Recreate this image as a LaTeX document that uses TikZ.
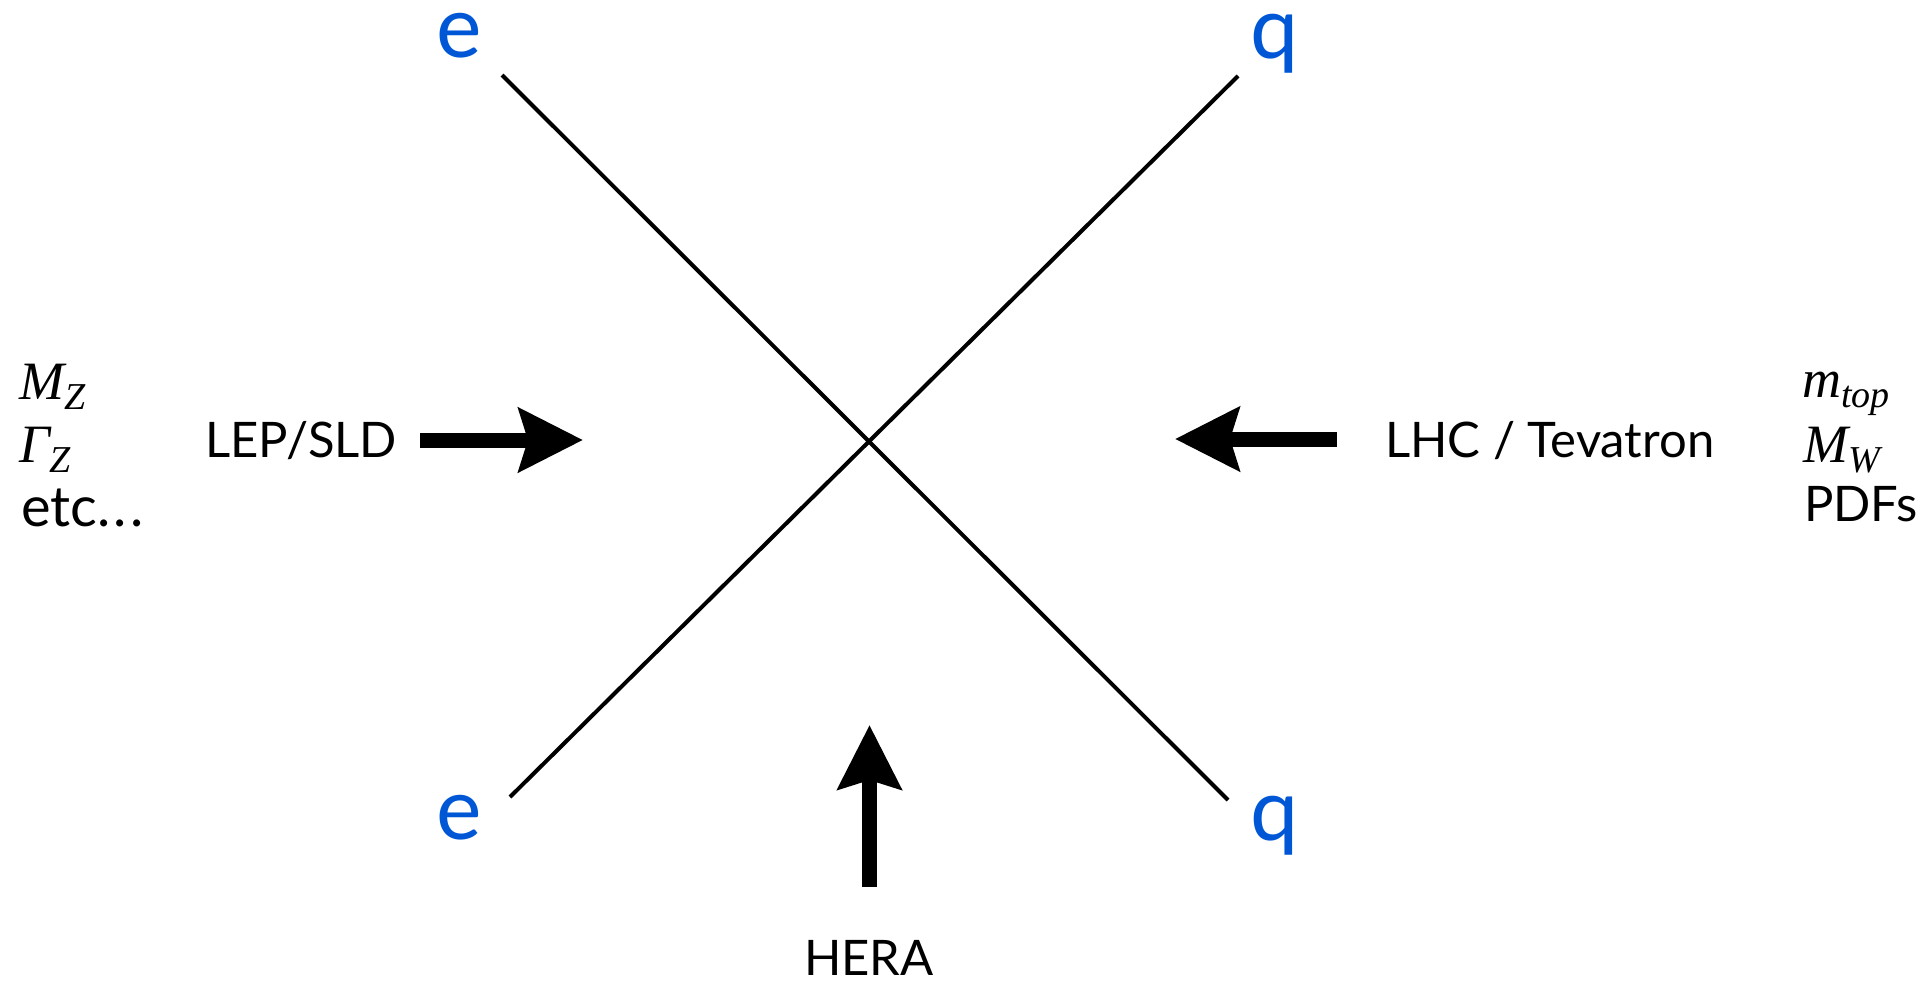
\documentclass[tikz,border=0pt]{standalone}
\usepackage{fontspec}
\setmainfont{Lato}
\newfontfamily\tmsfont{Liberation Serif}
\usetikzlibrary{arrows.meta}
\definecolor{qblue}{RGB}{0,87,214}
\newcommand\mysub[1]{\raisebox{-0.2em}{\fontsize{38}{38}\selectfont #1}}
\begin{document}
\begin{tikzpicture}[x=1pt,y=-1pt,
  lbl/.style={inner sep=0pt, anchor=base west, font=\fontsize{49}{60}\selectfont},
  obs/.style={inner sep=0pt, anchor=base west, font=\fontsize{56}{60}\selectfont},
  qlbl/.style={inner sep=0pt, anchor=base, text=qblue, text height=0.5em, text depth=0.2em, font=\fontsize{86}{90}\selectfont},
  mth/.style={inner sep=0pt, anchor=base west, font=\fontsize{54}{60}\selectfont\tmsfont\itshape},
  prop/.style={line width=4pt},
  bigarrow/.style={line width=15pt, -{Stealth[length=64pt,width=63pt,inset=9pt]}}]
\useasboundingbox (0,0) rectangle (1926,982);
% vertex
\coordinate (v) at (869,438);
% propagator ends
\coordinate (eTend) at (502,75);
\coordinate (qBend) at (1228,800);
\coordinate (qTend) at (1238,76);
\coordinate (eBend) at (510,797);
\draw[prop] (eTend) -- (qBend);
\draw[prop] (qTend) -- (eBend);
% particle labels
\node[qlbl] (eT) at (459,58) {e};
\node[qlbl] (qT) at (1275,59) {q};
\node[qlbl] (eB) at (459,839) {e};
\node[qlbl] (qB) at (1275,840) {q};
% experiment labels
\node[lbl] (lep) at (205,457) {LEP/SLD};
\node[lbl] (lhc) at (1385,457) {LHC / Tevatron};
\node[lbl, anchor=base] (hera) at (869,975) {HERA};
% arrows
\coordinate (lepS) at (420,440);
\coordinate (lepT) at (583,440);
\coordinate (lhcS) at (1337,439);
\coordinate (lhcT) at (1175,439);
\coordinate (herS) at (869.5,887);
\coordinate (herT) at (869.5,725);
\draw[bigarrow] (lepS) -- (lepT);
\draw[bigarrow] (lhcS) -- (lhcT);
\draw[bigarrow] (herS) -- (herT);
% observables left
\node[mth] (mz) at (19,399) {M\mysub{Z}};
\node[mth] (gz) at (19,462) {Γ\mysub{Z}};
\node[obs] (etc) at (21,526) {etc.\kern0.06em.\kern0.06em.};
% observables right
\node[mth] (mt) at (1802,397) {m\mysub{top}};
\node[mth] (mw) at (1803,462) {M\mysub{W}};
\node[lbl] (pdf) at (1804,521) {PDFs};
\end{tikzpicture}
\end{document}
